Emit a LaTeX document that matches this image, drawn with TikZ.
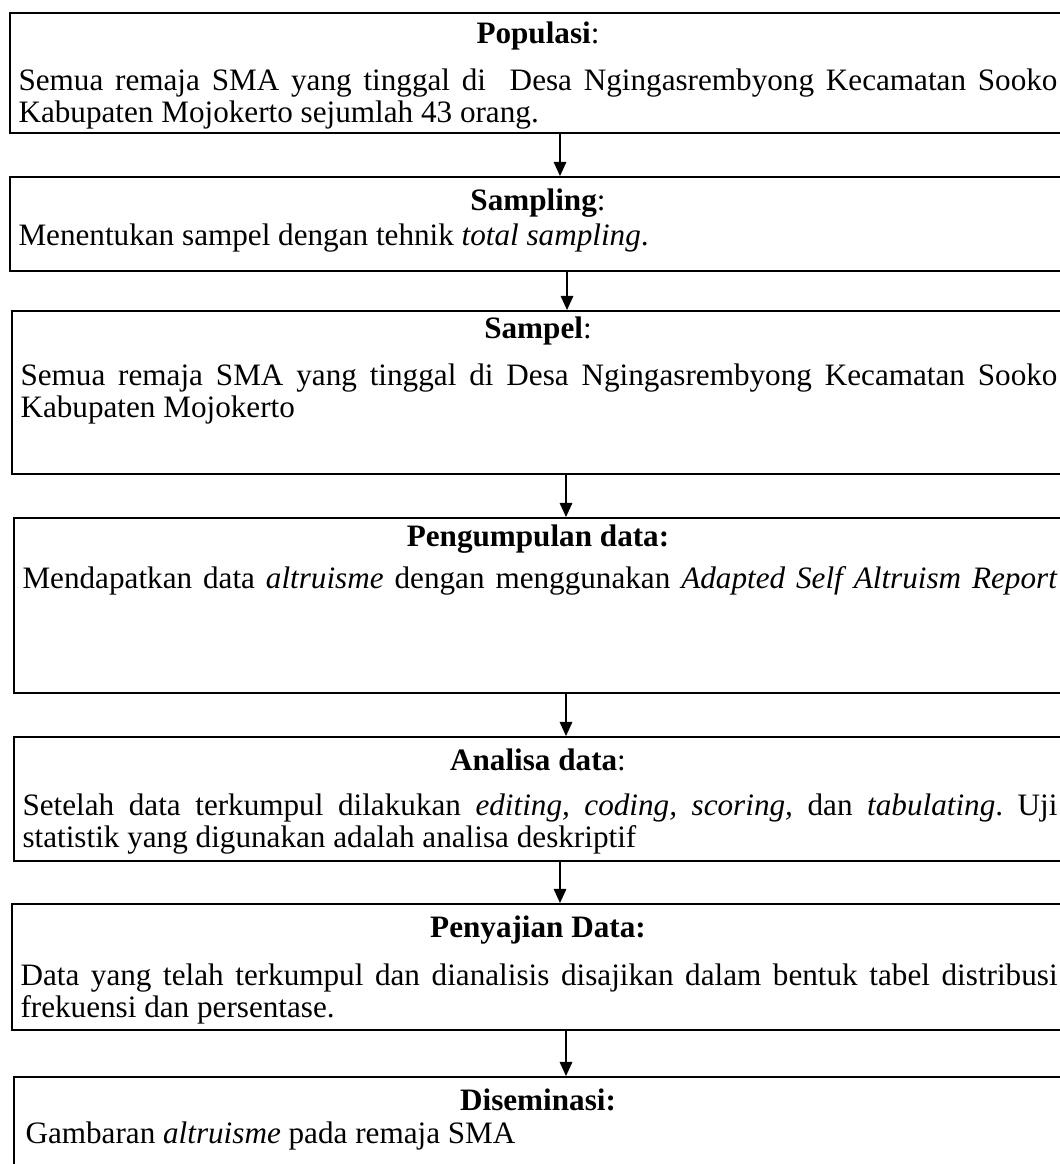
\documentclass[tikz,border=0pt]{standalone}
\usepackage{fontspec}
\setmainfont{Liberation Serif}
\usetikzlibrary{arrows.meta, positioning}
\frenchspacing
\newcommand{\pxu}{0.385pt}
\newlength{\jlen}
\newlength{\blen}
% justified line of given width (in px)
\newcommand{\jline}[2]{\pgfmathsetlength{\jlen}{#1*\pxu}\makebox[\jlen][s]{#2}}
% top-aligned text block of given width (in px), lines 32px apart
\newcommand{\jblock}[2]{\pgfmathsetlength{\blen}{#1*\pxu}\parbox[t]{\blen}{\pgfmathsetlength{\baselineskip}{32*\pxu}#2}}
\tikzset{
    stagebox/.style={rectangle, draw=black, line width=0.6pt, anchor=north west, inner sep=0pt, minimum width=1100*\pxu},
    stagetitle/.style={anchor=base, inner sep=0pt, font=\fontsize{12}{12.7}\selectfont},
    stagebody/.style={anchor=base west, inner sep=0pt, font=\fontsize{12}{12.7}\selectfont},
    flow/.style={-{Triangle[length=5.4pt, width=4.8pt]}, line width=0.6pt}
}
\begin{document}
\begin{tikzpicture}[x=\pxu, y=-\pxu]
    \useasboundingbox (0,0) rectangle (1060,1164);

    % --- BOXES ---
    \node[stagebox, minimum height=120*\pxu] (pop)  at (9,12)   {};
    \node[stagebox, minimum height=94*\pxu]  (samp) at (9,176)  {};
    \node[stagebox, minimum height=163*\pxu] (spl)  at (11,310) {};
    \node[stagebox, minimum height=175*\pxu] (coll) at (13,517) {};
    \node[stagebox, minimum height=124*\pxu] (anal) at (13,736) {};
    \node[stagebox, minimum height=126*\pxu] (pres) at (11,903) {};
    \node[stagebox, minimum height=124*\pxu] (diss) at (13,1076) {};

    % --- TITLES ---
    \node[stagetitle] (popT)  at (538,43)   {\textbf{Populasi}:};
    \node[stagetitle] (sampT) at (538,210)  {\textbf{Sampling}:};
    \node[stagetitle] (splT)  at (538,338)  {\textbf{Sampel}:};
    \node[stagetitle] (collT) at (538,546)  {\textbf{Pengumpulan data:}};
    \node[stagetitle] (analT) at (538,770)  {\textbf{Analisa data}:};
    \node[stagetitle] (presT) at (538,937)  {\textbf{Penyajian Data:}};
    \node[stagetitle] (dissT) at (538,1110) {\textbf{Diseminasi:}};

    % --- BODY TEXT ---
    \node[stagebody] (popB) at (18,90) {\jblock{1039}{%
        \jline{1039}{Semua remaja SMA yang tinggal di \ Desa Ngingasrembyong Kecamatan Sooko}\\
        Kabupaten Mojokerto sejumlah 43 orang.}};
    \node[stagebody] (sampB) at (18,245) {Menentukan sampel dengan tehnik \textit{total sampling}.};
    \node[stagebody] (splB) at (20,385) {\jblock{1037}{%
        \jline{1037}{Semua remaja SMA yang tinggal di Desa Ngingasrembyong Kecamatan Sooko}\\
        Kabupaten Mojokerto}};
    \node[stagebody] (collB) at (22,588) {\jline{1035}{Mendapatkan data \textit{altruisme} dengan menggunakan \textit{Adapted Self Altruism Report}}};
    \node[stagebody] (analB) at (22,815) {\jblock{1035}{%
        \jline{1035}{Setelah data terkumpul dilakukan \textit{editing, coding, scoring,} dan \textit{tabulating}. Uji}\\
        statistik yang digunakan adalah analisa deskriptif}};
    \node[stagebody] (presB) at (20,985) {\jblock{1037}{%
        \jline{1037}{Data yang telah terkumpul dan dianalisis disajikan dalam bentuk tabel distribusi}\\
        frekuensi dan persentase.}};
    \node[stagebody] (dissB) at (25,1143) {Gambaran \textit{altruisme} pada remaja SMA};

    % --- FLOW ---
    \draw[flow] ([xshift=551*\pxu]pop.south west)  -- ([xshift=551*\pxu]pop.south west |- samp.north);
    \draw[flow] ([xshift=558*\pxu]samp.south west) -- ([xshift=558*\pxu]samp.south west |- spl.north);
    \draw[flow] ([xshift=555*\pxu]spl.south west)  -- ([xshift=555*\pxu]spl.south west |- coll.north);
    \draw[flow] ([xshift=553*\pxu]coll.south west) -- ([xshift=553*\pxu]coll.south west |- anal.north);
    \draw[flow] ([xshift=547*\pxu]anal.south west) -- ([xshift=547*\pxu]anal.south west |- pres.north);
    \draw[flow] ([xshift=555*\pxu]pres.south west) -- ([xshift=555*\pxu]pres.south west |- diss.north);

\end{tikzpicture}
\end{document}
